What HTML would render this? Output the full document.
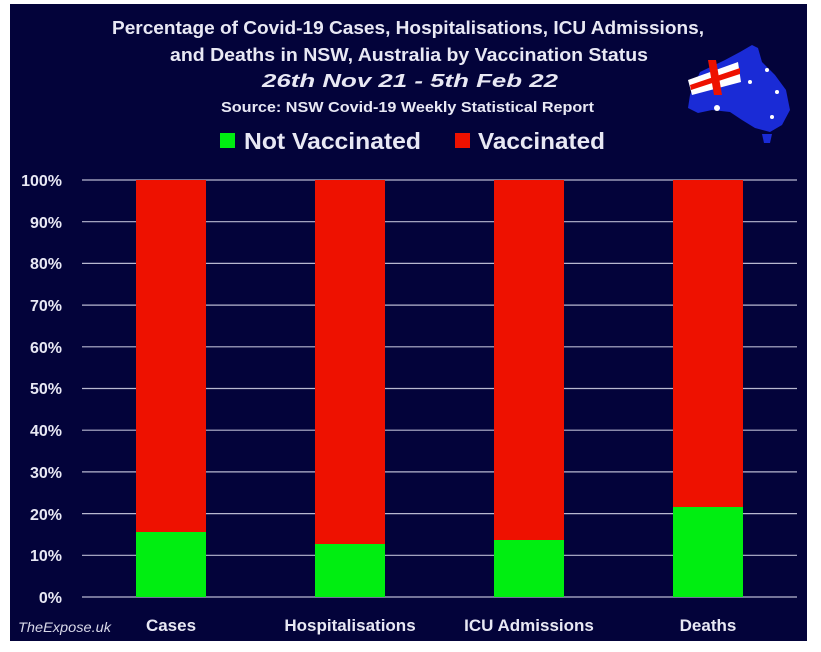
<!DOCTYPE html>
<html><head><meta charset="utf-8"><style>
html,body{margin:0;padding:0;background:#fff;width:821px;height:652px;overflow:hidden}
svg{display:block;font-family:"Liberation Sans",sans-serif;font-weight:bold}
</style></head><body>
<svg width="821" height="652" viewBox="0 0 821 652">
<rect x="0" y="0" width="821" height="652" fill="#fff"/>
<rect x="10" y="4" width="797" height="637" fill="#03033a"/>
<g fill="#e8e8f4">
<text x="112" y="34" font-size="18" textLength="592" lengthAdjust="spacingAndGlyphs">Percentage of Covid-19 Cases, Hospitalisations, ICU Admissions,</text>
<text x="170" y="61" font-size="18" textLength="478" lengthAdjust="spacingAndGlyphs">and Deaths in NSW, Australia by Vaccination Status</text>
<text x="262" y="87" font-size="18" font-style="italic" textLength="296" lengthAdjust="spacingAndGlyphs">26th Nov 21 - 5th Feb 22</text>
<text x="221" y="112" font-size="15" textLength="373" lengthAdjust="spacingAndGlyphs">Source: NSW Covid-19 Weekly Statistical Report</text>
</g>
<rect x="220" y="133" width="15" height="15" fill="#00ee11"/>
<text x="244" y="149" font-size="23" fill="#e8e8f4" textLength="177" lengthAdjust="spacingAndGlyphs">Not Vaccinated</text>
<rect x="455" y="133" width="15" height="15" fill="#ee1100"/>
<text x="478" y="149" font-size="23" fill="#e8e8f4" textLength="127" lengthAdjust="spacingAndGlyphs">Vaccinated</text>
<g>
<path d="M690 95 L700 72 L725 60 L740 52 L752 45 L758 48 L762 62 L775 75 L786 90 L790 110 L782 125 L770 132 L755 128 L742 120 L730 112 L712 110 L698 113 L688 108 Z" fill="#1a2bd6"/>
<path d="M762 134 L772 134 L770 143 L764 143 Z" fill="#1a2bd6"/>
<path d="M688 80 L738 62 L741 82 L692 95 Z" fill="#fff"/>
<path d="M690 85 L740 68 L740 74 L691 90 Z" fill="#ee1100"/>
<path d="M708 60 L716 60 L722 95 L714 95 Z" fill="#ee1100"/>
<circle cx="717" cy="108" r="3" fill="#fff"/>
<circle cx="767" cy="70" r="2" fill="#fff"/>
<circle cx="750" cy="82" r="2" fill="#fff"/>
<circle cx="777" cy="92" r="2" fill="#fff"/>
<circle cx="772" cy="117" r="2" fill="#fff"/>
</g>
<g stroke="#b8b8d0" stroke-width="1.2">
<line x1="82" y1="180" x2="797" y2="180"/><line x1="82" y1="221.7" x2="797" y2="221.7"/>
<line x1="82" y1="263.4" x2="797" y2="263.4"/><line x1="82" y1="305.1" x2="797" y2="305.1"/>
<line x1="82" y1="346.8" x2="797" y2="346.8"/><line x1="82" y1="388.5" x2="797" y2="388.5"/>
<line x1="82" y1="430.2" x2="797" y2="430.2"/><line x1="82" y1="471.9" x2="797" y2="471.9"/>
<line x1="82" y1="513.6" x2="797" y2="513.6"/><line x1="82" y1="555.3" x2="797" y2="555.3"/>
<line x1="82" y1="597" x2="797" y2="597"/>
</g>
<g fill="#e8e8f4" font-size="16" text-anchor="end">
<text x="62" y="186">100%</text><text x="62" y="228">90%</text><text x="62" y="269">80%</text>
<text x="62" y="311">70%</text><text x="62" y="353">60%</text><text x="62" y="394">50%</text>
<text x="62" y="436">40%</text><text x="62" y="478">30%</text><text x="62" y="520">20%</text>
<text x="62" y="561">10%</text><text x="62" y="603">0%</text>
</g>
<g fill="#ee1100">
<rect x="136" y="180" width="70" height="352"/><rect x="315" y="180" width="70" height="364"/>
<rect x="494" y="180" width="70" height="360"/><rect x="673" y="180" width="70" height="327"/>
</g>
<g fill="#00ee11">
<rect x="136" y="532" width="70" height="65"/><rect x="315" y="544" width="70" height="53"/>
<rect x="494" y="540" width="70" height="57"/><rect x="673" y="507" width="70" height="90"/>
</g>
<g fill="#e8e8f4" font-size="17" text-anchor="middle">
<text x="171" y="631">Cases</text><text x="350" y="631">Hospitalisations</text>
<text x="529" y="631">ICU Admissions</text><text x="708" y="631">Deaths</text>
</g>
<text x="18" y="632" font-size="14" font-weight="normal" font-style="italic" fill="#d8d8e8" textLength="93" lengthAdjust="spacingAndGlyphs">TheExpose.uk</text>
</svg>
</body></html>
